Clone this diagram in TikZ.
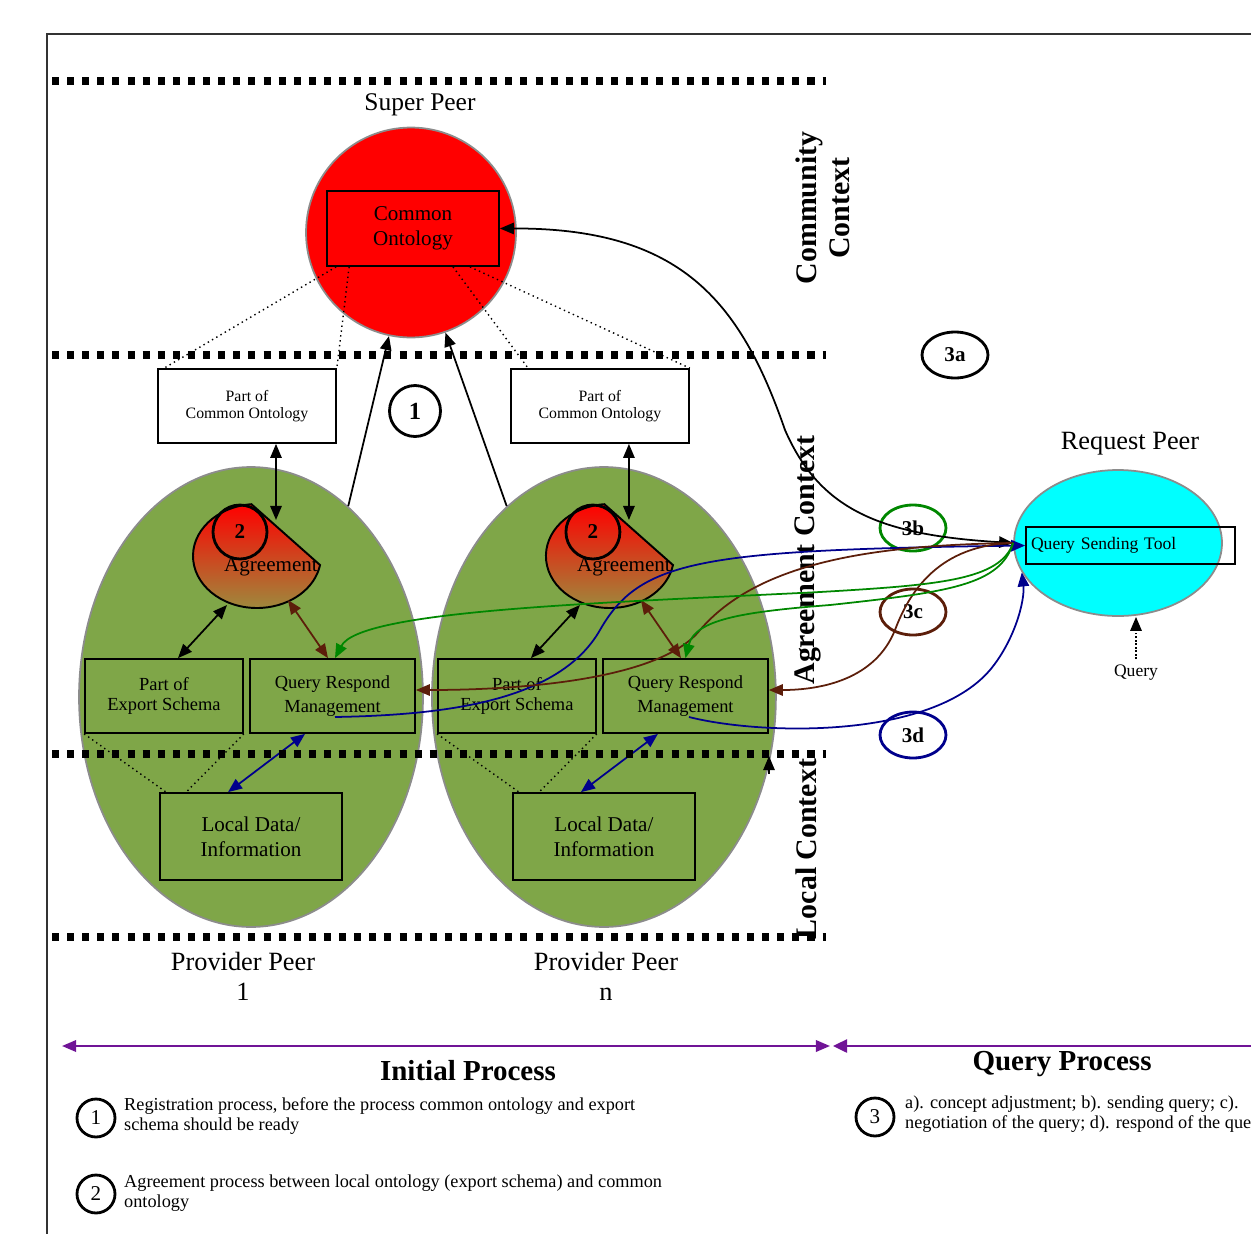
\documentclass[tikz,border=0pt]{standalone}
\usepackage{fontspec}
\setmainfont{Liberation Serif}
\usetikzlibrary{shapes.geometric,arrows.meta}

\definecolor{peergreen}{RGB}{127,166,72}
\definecolor{agrbottom}{RGB}{156,140,62}
\definecolor{qblue}{RGB}{0,0,140}
\definecolor{qbrown}{RGB}{92,30,10}
\definecolor{qgreen}{RGB}{0,135,0}
\definecolor{procpurple}{RGB}{112,20,150}
\definecolor{rimgray}{RGB}{140,140,140}
\definecolor{reqcyan}{RGB}{0,255,255}

\newcommand{\fsz}[2]{\fontsize{#1}{#2}\selectfont}

\tikzset{
  ctxline/.style={line width=4pt, dash pattern=on 4pt off 4.6pt},
  whitebox/.style={draw, line width=1pt, fill=white, align=center, minimum height=1.48cm},
  greenbox/.style={draw, line width=1pt, fill=peergreen, align=center, minimum height=1.48cm},
  peerell/.style={ellipse, draw=rimgray, line width=1pt, fill=peergreen, minimum width=6.88cm, minimum height=9.2cm},
  ring/.style={circle, draw, line width=1.6pt, inner sep=0pt, font=\fsz{12}{14}\bfseries},
  stepring/.style={ellipse, draw, line width=1.6pt, minimum width=1.32cm, minimum height=0.92cm, font=\fsz{12}{14}\bfseries},
  onehead/.style={-{Triangle[length=8pt,width=6.5pt]}},
  twohead/.style={{Triangle[length=8pt,width=6.5pt]}-{Triangle[length=8pt,width=6.5pt]}},
  lefthead/.style={{Triangle[length=8pt,width=7.5pt]}-},
  ctxlabel/.style={rotate=90, font=\fsz{17}{19}\bfseries, align=center},
}

\begin{document}
\begin{tikzpicture}[x=0.02cm, y=-0.02cm, every node/.style={font=\fsz{12}{14}}]
  \useasboundingbox (0,0) rectangle (1251,1234);

  % helper to draw one provider peer (#1 = suffix)
  \newcommand{\providerpeer}[1]{%
    \node[peerell] (pp#1) at (251,697) {};
    \node[whitebox, minimum width=3.56cm, font=\fsz{9}{10}] (pco#1) at (247,406) {Part of\\Common Ontology};
    % agreement: cut circle, red to olive
    \draw[line width=1.1pt, top color=red, bottom color=agrbottom]
      (257,556) ++(265:64 and 52) arc[start angle=265, end angle=10, x radius=64, y radius=52] -- cycle;
    \node[ring, minimum size=1.08cm] (two#1) at (240,532) {2};
    \node (agr#1) at (271,567) {Agreement};
    \coordinate (agrn#1) at (276,520);
    \coordinate (agrsw#1) at (227,605);
    \coordinate (agrse#1) at (288,600);
    \node[greenbox, minimum width=3.16cm, font=\fsz{10.5}{11.5}] (pes#1) at (164,696) {Part of\\Export Schema};
    \node[greenbox, minimum width=3.3cm, font=\fsz{10.5}{14}] (qrm#1) at (332.5,696) {Query Respond\\Management};
    \node[greenbox, minimum width=3.64cm, minimum height=1.74cm] (loc#1) at (251,836.5) {Local Data/\\Information};
    \draw[twohead, line width=1pt] (pco#1.south -| agrn#1) -- (agrn#1);
    \draw[twohead, line width=1pt] (agrsw#1) -- ([xshift=0.28cm]pes#1.north);
    \draw[twohead, line width=1pt, qbrown] (agrse#1) -- ([xshift=-0.09cm]qrm#1.north);
    \draw[twohead, line width=1pt, qblue] ([xshift=-0.55cm]qrm#1.south) -- ([xshift=-0.46cm]loc#1.north);
    \draw[dotted, line width=0.8pt] (pes#1.south west) -- ([xshift=0.14cm]loc#1.north west);
    \draw[dotted, line width=0.8pt] (pes#1.south east) -- ([xshift=0.54cm]loc#1.north west);
  }

  %==================== frame ====================
  \draw[line width=1pt, black!80] (47,1234) -- (47,34) -- (1251,34);

  %==================== provider peers ====================
  \providerpeer{1}
  \begin{scope}[xshift=7.06cm]
    \providerpeer{2}
  \end{scope}
  \node[font=\fsz{15}{17}, align=center] (ppl1) at (243,976) {Provider Peer\\1};
  \node[font=\fsz{15}{17}, align=center] (ppl2) at (606,976) {Provider Peer\\n};

  %==================== context lines ====================
  \foreach \cy in {81,355,754,937}
    \draw[ctxline] (52,\cy) -- (826,\cy);
  \node[ctxlabel] (cctx) at (823,208) {Community\\Context};
  \node[ctxlabel] (actx) at (808,560) {Agreement Context};
  \node[ctxlabel] (lctx) at (806,849) {Local Context};
  \coordinate (lcb) at (769,774);
  \coordinate (lct) at (769,756);
  \draw[onehead, line width=0.8pt] (lcb) -- (lct);

  %==================== super peer ====================
  \node[font=\fsz{14.5}{16}] (spl) at (420,105) {Super Peer};
  \node[circle, draw=rimgray, line width=1pt, fill=red, minimum size=4.2cm] (sp) at (411,232.5) {};
  \node[draw, line width=1pt, minimum width=3.44cm, minimum height=1.5cm, align=center] (co) at (413,228.5) {Common\\Ontology};
  \draw[dotted, line width=0.8pt] ([xshift=0.2cm]co.south west) -- ([xshift=0.14cm]pco1.north west);
  \draw[dotted, line width=0.8pt] ([xshift=0.46cm]co.south west) -- (pco1.north east);
  \draw[dotted, line width=0.8pt] ([xshift=0.8cm]co.south) -- ([xshift=0.36cm]pco2.north west);
  \draw[dotted, line width=0.8pt] ([xshift=1.14cm]co.south) -- (pco2.north east);
  % registration
  \draw[onehead, line width=1pt] (pp1.63) -- (sp.-102);
  \draw[onehead, line width=1pt] (pp2.117) -- (sp.-71);
  \node[ring, minimum size=1.02cm, font=\fsz{14}{16}\bfseries] (one) at (415,411) {1};

  %==================== request peer ====================
  \node[font=\fsz{15}{17}] (rpl) at (1130,444) {Request Peer};
  \node[ellipse, draw=rimgray, line width=1pt, fill=reqcyan, minimum width=4.16cm, minimum height=2.92cm] (rp) at (1118,543) {};
  \node[draw, line width=1pt, text width=3.98cm, inner xsep=0.1cm, minimum height=0.74cm, align=left, font=\fsz{10}{12}] (qst) at (1130.5,545.5) {Query Sending Tool};
  \node[font=\fsz{10}{12}] (qry) at (1136,673) {Query};
  \draw[onehead, densely dotted, line width=1pt] (qry.north) -- (qry.north |- rp.south);

  %==================== query steps ====================
  \node[stepring] (s3a) at (955,355) {3a};
  \node[stepring, draw=qgreen] (s3b) at (913,528) {3b};
  \node[stepring, draw=qbrown] (s3c) at (913,612) {3c};
  \node[stepring, draw=qblue] (s3d) at (913,735) {3d};

  \coordinate (qs1) at ([xshift=0.05cm, yshift=-0.42cm]qrm1.center);
  \coordinate (qs2) at ([xshift=0.07cm, yshift=-0.42cm]qrm2.center);
  % 3a: concept adjustment
  \draw[twohead, line width=1pt] (co.east) .. controls (680,228) and (740,300) .. (785,430)
    .. controls (820,510) and (880,535) .. (rp.west);
  % 3b: sending query
  \draw[onehead, line width=1pt, qblue] (qs1) .. controls (450,715) and (560,700) .. (600,630)
    .. controls (640,560) and (700,550) .. (qst.west);
  % 3c: negotiation
  \draw[onehead, line width=1pt, qbrown] (rp.west) .. controls (880,545) and (760,560) .. (700,630)
    .. controls (660,680) and (520,690) .. ([yshift=0.12cm]qrm1.east);
  \draw[onehead, line width=1pt, qbrown] (rp.west) .. controls (940,545) and (910,590) .. (895,630)
    .. controls (875,680) and (820,690) .. ([yshift=0.12cm]qrm2.east);
  \draw[onehead, line width=1pt, qgreen] (rp.west) .. controls (1000,580) and (940,585) .. (820,592)
    .. controls (600,603) and (360,610) .. ([xshift=0.05cm]qrm1.north);
  \draw[onehead, line width=1pt, qgreen] (rp.west) .. controls (1000,585) and (950,592) .. (830,605)
    .. controls (740,612) and (695,620) .. (qrm2.north);
  % 3d: respond
  \draw[onehead, line width=1pt, qblue] (qs2) .. controls (760,735) and (930,740) .. (990,670)
    .. controls (1015,640) and (1025,600) .. (rp.-163);

  %==================== processes ====================
  \coordinate (ipl) at (62,1046);
  \coordinate (ipr) at (830,1046);
  \coordinate (qpl) at (833,1046);
  \coordinate (qpr) at (1262,1046);
  \draw[twohead, procpurple, line width=1.2pt] (ipl) -- (ipr);
  \draw[lefthead, procpurple, line width=1.2pt] (qpl) -- (qpr);
  \node[font=\fsz{16.5}{18}\bfseries] (ipt) at (468,1071) {Initial Process};
  \node[font=\fsz{16.5}{18}\bfseries] (qpt) at (1062,1064) {Query Process};

  % legend
  \node[ring, minimum size=0.76cm, font=\fsz{12}{14}] (lg1) at (96,1118) {1};
  \node[anchor=west, align=left, font=\fsz{10.4}{11.5}] (lt1) at (118,1116)
    {Registration process, before the process common ontology and export\\schema should be ready};
  \node[ring, minimum size=0.76cm, font=\fsz{12}{14}] (lg2) at (96,1194) {2};
  \node[anchor=west, align=left, font=\fsz{10.4}{11.5}] (lt2) at (118,1193)
    {Agreement process between local ontology (export schema) and common\\ontology};
  \node[ring, minimum size=0.76cm, font=\fsz{12}{14}] (lg3) at (875,1117) {3};
  \node[anchor=west, align=left, font=\fsz{10.4}{11.5}] (lt3) at (899,1114)
    {a). concept adjustment; b). sending query; c).\\negotiation of the query; d). respond of the query};
\end{tikzpicture}
\end{document}
